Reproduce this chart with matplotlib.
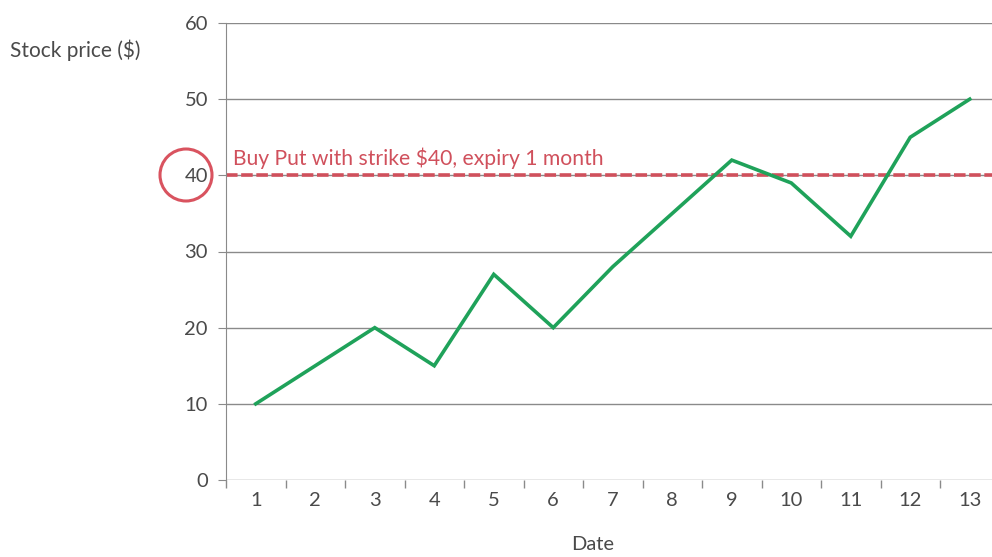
import matplotlib
matplotlib.use("Agg")
import matplotlib.pyplot as plt
from matplotlib.patches import Ellipse

dates = [1, 2, 3, 4, 5, 6, 7, 8, 9, 10, 11, 12, 13]
prices = [10, 15, 20, 15, 27, 20, 28, 35, 42, 39, 32, 45, 50]
strike = 40
y_ticks = [0, 10, 20, 30, 40, 50, 60]
strike_label = "Buy Put with strike $40, expiry 1 month"

plt.rcParams['font.family'] = ['Lato', 'DejaVu Sans']

fig = plt.figure(figsize=(9.92, 5.57), dpi=100)
left = 226 / 992
cat_w = 59.5 / 992
bottom = 1 - 480 / 557
top = 1 - 23 / 557
ax = fig.add_axes([left, bottom, 13 * cat_w, top - bottom])

gray = '#8a8a8a'
txt = '#4a4a4a'
ax.set_ylim(0, 60)
ax.set_xlim(0.5, 13.5)
ax.set_yticks(y_ticks)
for y in y_ticks:
    ax.axhline(y, color=gray, lw=1.0, zorder=1)

ax.plot(dates, prices, color='#1fa25a', lw=2.6, zorder=3, solid_joinstyle='miter')
ax.axhline(strike, color='#d0505c', lw=2.6, ls=(0, (3.2, 1.0)), zorder=2)
ax.text(0.62, strike + 0.8, strike_label, color='#d0505c', fontsize=15.2,
        va='bottom', ha='left')

for s in ['top', 'right', 'bottom']:
    ax.spines[s].set_visible(False)
ax.spines['left'].set_color(gray)

ax.set_xticks(dates)
ax.set_xticklabels([str(d) for d in dates])
ax.set_xticks([d + 0.5 for d in [0] + dates], minor=True)
ax.tick_params(axis='x', which='major', length=0, pad=9, labelsize=14.5, labelcolor=txt)
ax.tick_params(axis='x', which='minor', length=6, direction='out', color=gray, width=1)
ax.tick_params(axis='y', length=6, direction='out', color=gray, pad=7, labelsize=14.5,
               labelcolor=txt)

fig.text(10 / 992, 1 - 50 / 557, "Stock price ($)", fontsize=15, color=txt,
         va='center', ha='left')
fig.text(593 / 992, 1 - 553 / 557, "Date", fontsize=14.5, color=txt,
         va='bottom', ha='center')

circ = Ellipse((186 / 992, 1 - 175 / 557), width=52 / 992, height=52 / 557,
               transform=fig.transFigure, fill=False, edgecolor='#d9535f', lw=2.2)
fig.patches.append(circ)

fig.savefig("out.png", dpi=100)
